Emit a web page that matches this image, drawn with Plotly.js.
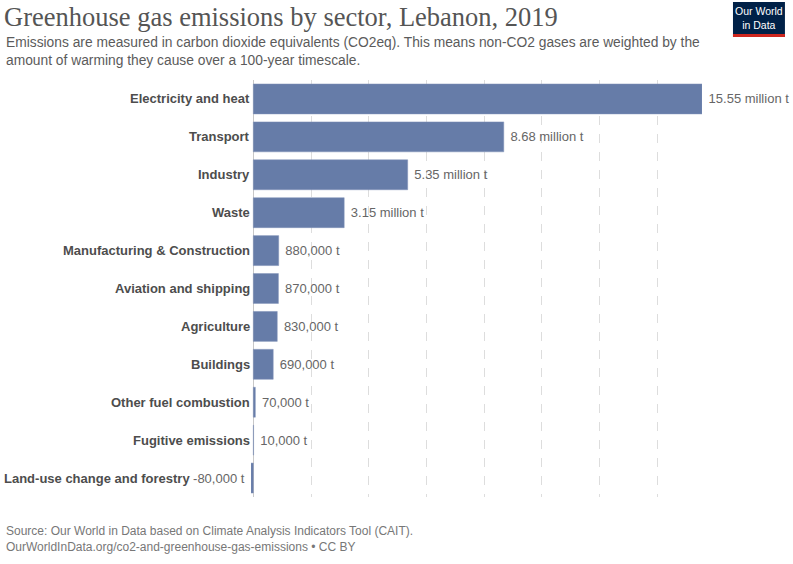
<!DOCTYPE html>
<html>
<head>
<meta charset="utf-8">
<script src="https://cdn.plot.ly/plotly-3.0.1.min.js"></script>
<style>html,body{margin:0;padding:0;background:#fff;}#chart{width:793px;height:564px;}</style>
</head>
<body>
<div id="chart"></div>
<script>
// ---- data ----
const sectors = ["Electricity and heat","Transport","Industry","Waste","Manufacturing & Construction","Aviation and shipping","Agriculture","Buildings","Other fuel combustion","Fugitive emissions","Land-use change and forestry"];
const emissionsMt = [15.55, 8.68, 5.35, 3.15, 0.88, 0.87, 0.83, 0.69, 0.07, 0.01, -0.08];
const valueLabels = ["15.55 million t","8.68 million t","5.35 million t","3.15 million t","880,000 t","870,000 t","830,000 t","690,000 t","70,000 t","10,000 t","-80,000 t"];
const gridTicks = [0, 2, 4, 6, 8, 10, 12, 14];

// ---- layout geometry (pixels) ----
const W = 793, H = 564;
const L = 250.7, R = 702, T = 80, B = 497;
const px = x => (x - L) / (R - L);
const py = y => (B - y) / (B - T);

const xmin = Math.min(0, ...emissionsMt), xmax = Math.max(...emissionsMt);
const NB = '\u00a0';

const trace = {
  type: 'bar', orientation: 'h',
  y: sectors, x: emissionsMt,
  text: valueLabels.map((t, i) => emissionsMt[i] < 0 ? t + NB : NB + t),
  textposition: 'outside', constraintext: 'none', cliponaxis: false,
  outsidetextfont: {family: 'Liberation Sans, Arial, sans-serif', size: 13, color: '#666'},
  marker: {color: '#667ca8', line: {color: '#8193b8', width: 0.5}},
  hoverinfo: 'none'
};

const annotations = [];
// category labels
sectors.forEach((s, i) => {
  const v = emissionsMt[i];
  annotations.push({
    xref: 'x', yref: 'y', x: Math.min(0, v), y: s,
    text: '<b>' + s + '</b>', showarrow: false, xanchor: 'right', yanchor: 'middle',
    xshift: v < 0 ? -59 : -1,
    font: {family: 'Liberation Sans, Arial, sans-serif', size: 13, color: '#4d4d4d'}
  });
});
// subtitle
annotations.push({xref:'paper', yref:'paper', x: px(4), y: py(33), xanchor:'left', yanchor:'top', align:'left', showarrow:false,
  text: 'Emissions are measured in carbon dioxide equivalents (CO2eq). This means non-CO2 gases are weighted by the<br>amount of warming they cause over a 100-year timescale.',
  font:{family:'Liberation Sans, Arial, sans-serif', size:13.8, color:'#5b5b5b'}});
// footer
annotations.push({xref:'paper', yref:'paper', x: px(4), y: py(522), xanchor:'left', yanchor:'top', align:'left', showarrow:false,
  text: 'Source: Our World in Data based on Climate Analysis Indicators Tool (CAIT).<br>OurWorldInData.org/co2-and-greenhouse-gas-emissions • CC BY',
  font:{family:'Liberation Sans, Arial, sans-serif', size:12, color:'#777'}});
// logo text
annotations.push({xref:'paper', yref:'paper', x: px(759), y: py(18), xanchor:'center', yanchor:'middle', showarrow:false,
  text:'Our World<br>in Data', font:{family:'Liberation Sans, Arial, sans-serif', size:10.5, color:'#fff'}});

const shapes = [
  {type:'rect', xref:'paper', yref:'paper', x0:px(733), x1:px(785), y0:py(37), y1:py(2), fillcolor:'#002147', line:{width:0}, layer:'above'},
  {type:'rect', xref:'paper', yref:'paper', x0:px(733), x1:px(785), y0:py(37), y1:py(34), fillcolor:'#ce261e', line:{width:0}, layer:'above'}
];

const layout = {
  width: W, height: H,
  margin: {l: L, r: W - R, t: T, b: H - B, pad: 0},
  paper_bgcolor: '#fff', plot_bgcolor: '#fff',
  showlegend: false,
  bargap: 0.21,
  title: {text: 'Greenhouse gas emissions by sector, Lebanon, 2019', xref: 'container', yref: 'container',
          x: 4 / W, xanchor: 'left', y: 1 - 17 / H, yanchor: 'middle',
          font: {family: 'Liberation Serif, Times New Roman, serif', size: 26.5, color: '#555'}},
  xaxis: {range: [xmin, xmax], tickvals: gridTicks, showticklabels: false, ticks: '',
          showgrid: true, gridcolor: '#dddddd', griddash: 'dash', gridwidth: 1,
          zeroline: true, zerolinecolor: '#c8c8c8', zerolinewidth: 1, showline: false, fixedrange: true},
  yaxis: {type: 'category', categoryorder: 'array', categoryarray: sectors, autorange: 'reversed',
          showticklabels: false, ticks: '', showgrid: false, zeroline: false, showline: false, fixedrange: true},
  annotations, shapes
};

Plotly.newPlot('chart', [trace], layout, {displayModeBar: false, staticPlot: true});
</script>
</body>
</html>
